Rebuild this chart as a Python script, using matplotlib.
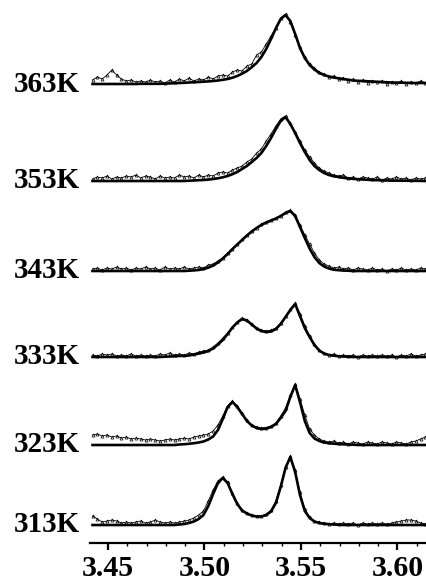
import numpy as np
import matplotlib as mpl
import matplotlib.pyplot as plt
from matplotlib.ticker import MultipleLocator


# Magnetic field sweep (T), evenly sampled over the recorded window.
FIELD = np.linspace(3.442, 3.6145, 70)

TEMPS = ["363K", "353K", "343K", "333K", "323K", "313K"]
# Vertical stacking offset of each spectrum (arbitrary units).
OFFSETS = [459, 362, 272, 186, 98, 18]

# Simulated (fit) spectra, intensity above each baseline.
FIT_363 = [
    0, 0, 0, 0, 0, 0, 0, 0, 0, 0,
    0.2, 0.2, 0.2, 0.2, 0.2, 0.4, 0.6, 0.8, 1.0, 1.2,
    1.5, 1.8, 2.0, 2.3, 2.6, 3.0, 3.5, 4.2, 5.0, 6.3,
    8.0, 10.3, 13.0, 16.8, 21.0, 27.0, 35.0, 45.0, 55.7, 65.0,
    69.0, 63.0, 50.0, 36.0, 26.0, 19.0, 14.5, 11.0, 9.0, 7.5,
    6.5, 5.7, 5.0, 4.3, 3.5, 3.2, 3.0, 2.7, 2.5, 2.2,
    2.0, 1.7, 1.5, 1.4, 1.3, 1.2, 1.1, 1.0, 1.0, 1.0,
]
FIT_353 = [
    0, 0, 0, 0, 0, 0, 0, 0, 0, 0,
    0, 0, 0, 0, 0, 0, 0, 0, 0, 0,
    0.3, 0.5, 0.8, 1.0, 1.4, 2.0, 2.7, 3.7, 5.0, 6.8,
    9, 12, 15, 19, 23, 28, 35, 43, 52, 60,
    64, 57, 48, 38, 29, 21, 15, 11, 8, 6,
    4.8, 4.0, 3.2, 2.6, 2.1, 1.8, 1.5, 1.2, 1.0, 0.8,
    0.6, 0.5, 0.4, 0.4, 0.3, 0.3, 0.2, 0.2, 0.1, 0,
]
FIT_343 = [
    0, 0, 0, 0, 0, 0, 0, 0, 0, 0,
    0, 0, 0, 0, 0, 0, 0, 0, 0, 0,
    0.3, 0.6, 1.0, 2.0, 3.3, 5.5, 8.5, 12.5, 17, 22,
    26.5, 31, 35.5, 39.5, 43, 46, 48.5, 50.5, 52.5, 55,
    58, 60, 55, 44, 33, 22.5, 14, 8, 4.5, 2.5,
    1.3, 0.8, 0.5, 0.3, 0, 0, 0, 0, 0, 0,
    0, 0, 0, 0, 0, 0, 0, 0, 0, 0,
]
FIT_333 = [
    0, 0, 0, 0, 0, 0, 0, 0, 0, 0,
    0, 0, 0, 0, 0, 0.3, 0.5, 0.7, 1.0, 1.2,
    1.5, 2.5, 3.5, 4.5, 6, 8.5, 12.5, 17, 23, 29.5,
    34.5, 38, 36.5, 32.5, 28.5, 26, 25, 25.5, 28, 33,
    40, 47, 53, 41, 29, 20, 12, 6.5, 3.5, 2,
    1.3, 0.8, 0.5, 0.3, 0, 0, 0, 0, 0, 0,
    0, 0, 0, 0, 0, 0, 0, 0, 0, 0,
]
FIT_323 = [
    0, 0, 0, 0, 0, 0, 0, 0, 0, 0,
    0, 0, 0, 0, 0, 0, 0, 0, 0.5, 0.8,
    1.2, 1.8, 2.5, 3.5, 5.5, 8.5, 15, 26, 38, 43,
    38, 31, 24, 19.5, 17, 16, 16.5, 18, 21, 27,
    34, 48, 60, 43, 24, 12, 6.5, 4, 2.5, 1.8,
    1.3, 1.0, 0.7, 0.5, 0.3, 0, 0, 0, 0, 0,
    0, 0, 0, 0, 0, 0, 0, 0, 0, 0,
]
FIT_313 = [
    0, 0, 0, 0, 0, 0, 0, 0, 0, 0,
    0, 0, 0, 0, 0, 0, 0, 0, 0.5, 1,
    2, 3.5, 6, 10, 19, 31, 42, 47, 42, 31,
    21, 14.5, 11.5, 9.5, 8.5, 8.5, 10, 13.5, 22, 38,
    57, 68, 53, 30, 14, 7, 3.5, 2, 1.3, 0.8,
    0.5, 0.3, 0, 0, 0, 0, 0, 0, 0, 0,
    0, 0, 0, 0, 0, 0, 0, 0, 0, 0,
]

# Experimental spectra, same sampling.
EXP_363 = [
    4, 7, 5, 9, 14, 9, 5, 3, 4, 2,
    3, 2, 4, 2, 3, 1, 4, 2, 5, 3,
    6, 3, 5, 4, 7, 5, 8, 9, 8, 12,
    14, 13, 18, 20, 29, 32, 40, 48, 56, 66,
    70, 62, 49, 37, 27, 20, 16, 12, 10, 7,
    8, 5, 6, 3, 5, 2, 4, 1, 3, 2,
    3, 0, 2, 1, 3, 0, 2, 1, 3, 1,
]
EXP_353 = [
    2, 4, 3, 5, 2, 4, 3, 5, 4, 6,
    3, 5, 4, 2, 5, 3, 4, 3, 6, 4,
    5, 3, 6, 4, 6, 5, 8, 9, 8, 11,
    13, 15, 19, 22, 28, 32, 40, 47, 55, 62,
    65, 58, 49, 40, 31, 24, 18, 13, 10, 8,
    6, 5, 6, 3, 4, 2, 4, 3, 2, 4,
    1, 3, 2, 4, 2, 3, 1, 3, 2, 3,
]
EXP_343 = [
    2, 3, 1, 3, 2, 4, 2, 3, 1, 3,
    2, 4, 2, 3, 1, 4, 2, 3, 2, 4,
    2, 3, 4, 3, 6, 7, 10, 13, 18, 22,
    27, 32, 36, 40, 43, 47, 49, 51, 53, 55,
    59, 61, 56, 46, 36, 27, 18, 11, 7, 5,
    3, 4, 2, 3, 1, 3, 2, 1, 3, 1,
    2, 0, 2, 1, 3, 1, 2, 1, 3, 2,
]
EXP_333 = [
    2, 1, 3, 2, 3, 1, 2, 1, 3, 1,
    2, 1, 2, 1, 3, 2, 4, 2, 3, 2,
    4, 3, 5, 6, 7, 10, 14, 19, 24, 30,
    35, 39, 37, 33, 29, 27, 26, 27, 29, 34,
    41, 48, 54, 43, 31, 21, 13, 7, 4, 2,
    3, 1, 2, 1, 2, 0, 2, 1, 2, 1,
    2, 1, 2, 0, 2, 1, 3, 1, 2, 3,
]
EXP_323 = [
    10, 11, 9, 10, 8, 9, 7, 8, 6, 7,
    6, 5, 6, 5, 4, 5, 6, 5, 6, 7,
    6, 8, 9, 10, 11, 14, 20, 29, 39, 44,
    39, 32, 25, 20, 18, 17, 17.5, 19, 22, 29,
    37, 50, 61, 46, 30, 16, 10, 6, 4, 3,
    4, 2, 3, 1, 3, 2, 1, 3, 2, 1,
    3, 2, 1, 3, 2, 1, 3, 4, 6, 8,
]
EXP_313 = [
    9, 6, 3, 4, 5, 4, 2, 3, 2, 3,
    4, 2, 3, 5, 3, 2, 3, 2, 3, 4,
    5, 7, 10, 14, 24, 35, 44, 48, 43, 32,
    22, 15, 12, 10, 9, 9, 11, 15, 24, 40,
    58, 69, 55, 33, 16, 8, 4, 3, 2, 1,
    2, 1, 2, 1, 2, 0, 2, 1, 2, 1,
    2, 1, 2, 3, 4, 5, 5, 4, 2, 1,
]

FITS = [FIT_363, FIT_353, FIT_343, FIT_333, FIT_323, FIT_313]
EXPS = [EXP_363, EXP_353, EXP_343, EXP_333, EXP_323, EXP_313]

TICKS = [3.45, 3.50, 3.55, 3.60]


def set_style():
    mpl.rcParams.update({
        "font.family": ["Liberation Serif", "DejaVu Serif"],
        "font.weight": "bold",
        "font.size": 21,
        "axes.linewidth": 1.6,
        "xtick.major.size": 5,
        "xtick.major.width": 1.6,
        "xtick.minor.size": 2.5,
        "xtick.minor.width": 1.0,
        "xtick.major.pad": 4,
        "xtick.labelsize": 21.5,
    })


def plot_spectra():
    fig = plt.figure(figsize=(4.26, 5.84), dpi=100)
    ax = fig.add_axes([90 / 426, 41 / 584, 336 / 426, 543 / 584])

    for temp, offset, fit, exp in zip(TEMPS, OFFSETS, FITS, EXPS):
        ax.plot(FIELD, offset + np.asarray(fit), color="black",
                linewidth=1.9, solid_joinstyle="round", zorder=2)
        ax.plot(FIELD, offset + np.asarray(exp), color="black",
                linewidth=0.6, marker="^", markersize=2.2,
                markerfacecolor="none", markeredgewidth=0.5, zorder=3)
        ax.text(-0.03, offset, temp, transform=ax.get_yaxis_transform(),
                ha="right", va="center", fontsize=21, fontweight="bold")

    ax.set_xlim(3.4407, 3.6148)
    ax.set_ylim(0, 543)
    ax.set_xticks(TICKS)
    ax.set_xticklabels([f"{t:.2f}" for t in TICKS], fontweight="bold")
    ax.xaxis.set_minor_locator(MultipleLocator(0.01))
    ax.set_yticks([])
    for side in ("left", "right", "top"):
        ax.spines[side].set_visible(False)

    fig.savefig("out.png", dpi=100)
    plt.close(fig)


def main():
    set_style()
    plot_spectra()


if __name__ == "__main__":
    main()
